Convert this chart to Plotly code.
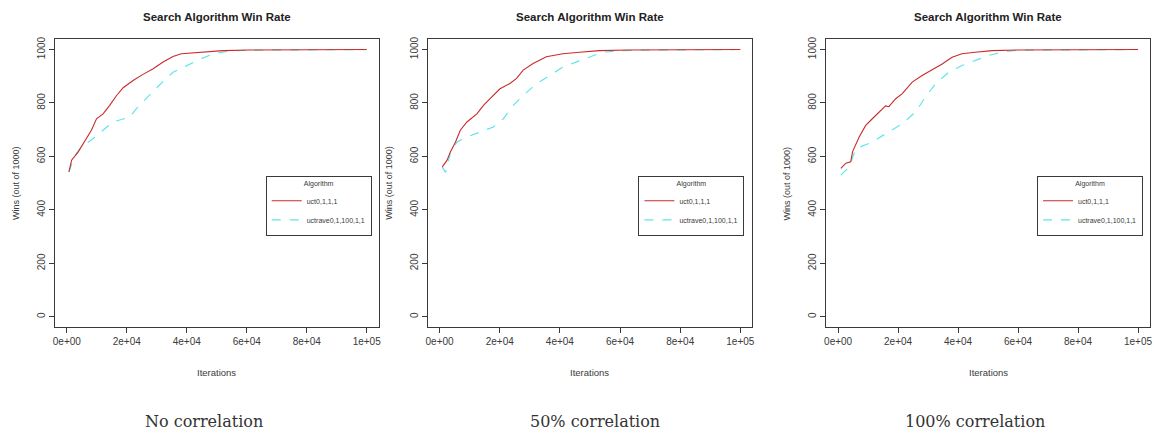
import plotly.graph_objects as go

W, H = 1154, 434

# ---------------- data ----------------
series_names = ["uct0,1,1,1", "uctrave0,1,100,1,1"]
captions = ["No correlation", "50% correlation", "100% correlation"]
x_tick_vals = [0, 20000, 40000, 60000, 80000, 100000]
x_tick_text = ["0e+00", "2e+04", "4e+04", "6e+04", "8e+04", "1e+05"]
y_tick_vals = [0, 200, 400, 600, 800, 1000]

# Panel 1: No correlation
p1_uct_x = [700, 1600, 3800, 6000, 8200, 9900, 12100, 14300, 16600, 18800, 22100, 25400,
            28800, 32100, 35400, 38200, 42100, 46600, 52100, 61000, 100000]
p1_uct_y = [542, 586, 617, 660, 698, 741, 759, 791, 828, 857, 884, 907,
            928, 953, 974, 984, 987, 990, 996, 998, 1000]
p1_rave_x = [700, 2500, 4900, 8800, 15400, 21000, 23200, 27700, 32100, 35400, 39900,
             44300, 48800, 54300, 61000, 100000]
p1_rave_y = [542, 600, 636, 667, 729, 747, 779, 831, 881, 915, 940,
             963, 984, 994, 998, 1000]

# Panel 2: 50% correlation
p2_uct_x = [900, 2500, 3600, 5300, 6900, 9100, 12400, 14600, 16800, 20100, 23400, 25600,
            27800, 31100, 35500, 41000, 46500, 53100, 63000, 100000]
p2_uct_y = [561, 586, 617, 654, 698, 729, 759, 791, 816, 853, 873, 892,
            923, 948, 973, 984, 990, 996, 998, 1000]
p2_rave_x = [900, 2000, 3500, 5800, 9100, 13500, 17900, 21200, 24500, 27800, 32200,
             36600, 41000, 45400, 49800, 54200, 60800, 66300, 100000]
p2_rave_y = [561, 540, 610, 654, 673, 692, 710, 741, 791, 828, 872,
             903, 934, 953, 971, 990, 996, 998, 1000]

# Panel 3: 100% correlation
p3_uct_x = [900, 2600, 4200, 4800, 7000, 9200, 11400, 13600, 15800, 16900, 19200, 21400,
            24700, 28000, 31300, 34700, 38000, 41300, 45700, 51300, 60100, 100000]
p3_uct_y = [555, 575, 580, 617, 673, 716, 741, 766, 789, 786, 816, 835,
            878, 903, 924, 946, 971, 984, 990, 996, 998, 1000]
p3_rave_x = [900, 3700, 5900, 11400, 16900, 21400, 25800, 29100, 32500, 36900, 41300,
             45700, 50200, 54600, 60100, 100000]
p3_rave_y = [530, 561, 629, 654, 692, 723, 766, 822, 872, 915, 940,
             959, 978, 990, 998, 1000]

panels = [
    (p1_uct_x, p1_uct_y, p1_rave_x, p1_rave_y),
    (p2_uct_x, p2_uct_y, p2_rave_x, p2_rave_y),
    (p3_uct_x, p3_uct_y, p3_rave_x, p3_rave_y),
]

# ---------------- layout geometry (pixels) ----------------
box_left = [53, 427, 827]
box_right = [378, 753, 1152]
box_top, box_bottom = 37, 327
legend_right = [371, 745, 1145]
ytitle_x = [14, 389, 788]
caption_x = [203, 595, 976]

RED = "#cc2a2a"
CYAN = "#5ee6ea"
AXC = "#3a3a3a"
FONT = "Liberation Sans, Arial, sans-serif"

fig = go.Figure()

layout = dict(
    width=W, height=H,
    margin=dict(l=0, r=0, t=0, b=0),
    paper_bgcolor="white", plot_bgcolor="white",
    showlegend=True,
    font=dict(family=FONT, color=AXC),
)
annotations = []

for i, (ux, uy, rx, ry) in enumerate(panels):
    n = "" if i == 0 else str(i + 1)
    xa, ya = "x" + n, "y" + n
    leg = "legend" + n
    fig.add_trace(go.Scatter(x=rx, y=ry, mode="lines", name=series_names[1],
                             line=dict(color=CYAN, width=1.2, dash="dash"),
                             xaxis=xa, yaxis=ya, legend=leg, legendrank=2))
    fig.add_trace(go.Scatter(x=ux, y=uy, mode="lines", name=series_names[0],
                             line=dict(color=RED, width=1.1),
                             xaxis=xa, yaxis=ya, legend=leg, legendrank=1))

    layout["xaxis" + n] = dict(
        domain=[box_left[i] / W, box_right[i] / W],
        anchor=ya, range=[-4000, 104000],
        tickvals=x_tick_vals, ticktext=x_tick_text,
        ticks="outside", ticklen=5, tickcolor=AXC, tickwidth=1,
        showline=True, mirror=True, linecolor=AXC, linewidth=1,
        showgrid=False, zeroline=False,
        tickfont=dict(size=10, color=AXC, family=FONT),
    )
    layout["yaxis" + n] = dict(
        domain=[1 - box_bottom / H, 1 - box_top / H],
        anchor=xa, range=[-40, 1040],
        tickvals=y_tick_vals, tickangle=-90,
        ticks="outside", ticklen=5, tickcolor=AXC, tickwidth=1,
        showline=True, mirror=True, linecolor=AXC, linewidth=1,
        showgrid=False, zeroline=False,
        tickfont=dict(size=10, color=AXC, family=FONT),
    )
    layout[leg] = dict(
        x=legend_right[i] / W, xanchor="right",
        y=1 - 175 / H, yanchor="top",
        bordercolor=AXC, borderwidth=1, bgcolor="white",
        font=dict(size=7, color=AXC, family=FONT),
        title=dict(text="Algorithm", side="top center", font=dict(size=7, color=AXC)),
        tracegroupgap=0, itemwidth=30,
        traceorder="normal",
    )

    cx = (box_left[i] + box_right[i]) / 2 / W
    annotations.append(dict(text="<b>Search Algorithm Win Rate</b>", x=cx, y=1 - 15 / H,
                            xref="paper", yref="paper", showarrow=False,
                            xanchor="center", yanchor="middle",
                            font=dict(size=11.5, color="#222", family=FONT)))
    annotations.append(dict(text="Iterations", x=cx, y=1 - 372 / H,
                            xref="paper", yref="paper", showarrow=False,
                            xanchor="center", yanchor="middle",
                            font=dict(size=9.5, color=AXC, family=FONT)))
    annotations.append(dict(text="Wins (out of 1000)", x=ytitle_x[i] / W,
                            y=1 - (box_top + box_bottom) / 2 / H,
                            xref="paper", yref="paper", showarrow=False, textangle=-90,
                            xanchor="center", yanchor="middle",
                            font=dict(size=9, color=AXC, family=FONT)))
    annotations.append(dict(text=captions[i], x=caption_x[i] / W, y=1 - 421 / H,
                            xref="paper", yref="paper", showarrow=False,
                            xanchor="center", yanchor="middle",
                            font=dict(size=16, color="#333", family="DejaVu Serif, serif")))

layout["annotations"] = annotations
fig.update_layout(**layout)
fig.write_html("out.html")
